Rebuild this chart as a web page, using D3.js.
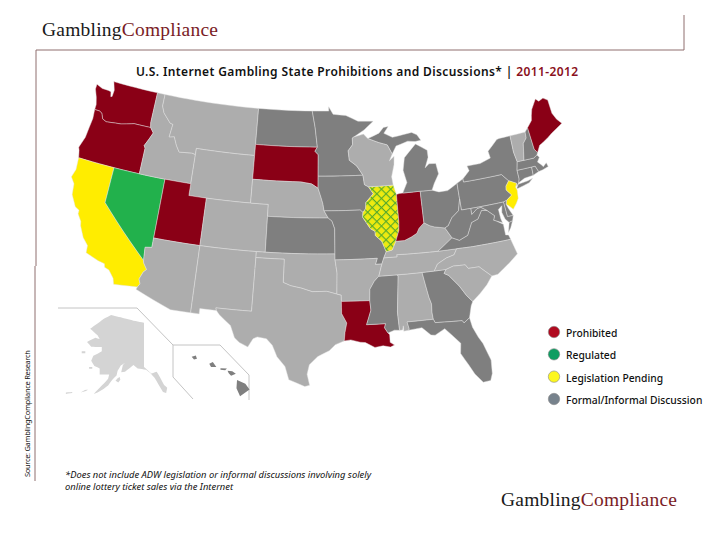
<!doctype html>
<html lang="en">
<head>
<meta charset="utf-8">
<title>U.S. Internet Gambling State Prohibitions and Discussions</title>
<script src="https://d3js.org/d3.v7.min.js"></script>
<style>
  html, body { margin: 0; padding: 0; background: #fff; }
  svg { display: block; }
  .state { stroke: #e4e4e4; stroke-width: 0.45; stroke-linejoin: round; }
  .frame { fill: none; stroke: #8f6f6f; stroke-width: 1; }
  .inset { fill: none; stroke: #c4c4c4; stroke-width: 1; }
  .logo { font-family: "Liberation Serif", serif; font-size: 19.5px; }
  .label { font-family: "Noto Sans", sans-serif; font-size: 10.3px; fill: #111; }
</style>
</head>
<body>
<div id="map"></div>
<script>
// state outlines, lon/lat
var WA = [[[-124.7,48.38],[-123.9,48.16],[-123.1,48.15],[-122.75,48.1],[-122.6,47.7],[-122.45,47.75],[-122.4,48.3],[-122.75,49],[-117.03,49],[-117.04,46.42],[-116.92,46],[-118.98,46],[-119.3,45.93],[-120.5,45.7],[-121.2,45.65],[-122.3,45.55],[-122.8,45.7],[-123.1,46.15],[-123.45,46.27],[-124.05,46.27],[-124.05,46.7],[-124.3,47.3],[-124.7,47.95]]];
var OR = [[[-124.05,46.27],[-123.45,46.27],[-123.1,46.15],[-122.8,45.7],[-122.3,45.55],[-121.2,45.65],[-120.5,45.7],[-119.3,45.93],[-118.98,46],[-116.92,46],[-116.47,45.6],[-116.85,44.95],[-117.2,44.4],[-117.03,44.2],[-117.03,42],[-120,42],[-124.2,42],[-124.4,42.6],[-124.55,42.85],[-124.15,43.8],[-124.05,44.7],[-123.95,45.5]]];
var CA = [[[-124.2,42],[-120,42],[-120,39],[-114.63,35],[-114.57,34.8],[-114.14,34.3],[-114.43,34.05],[-114.72,33.4],[-114.52,33.03],[-114.72,32.72],[-117.12,32.53],[-117.3,33],[-117.9,33.6],[-118.4,33.75],[-118.5,34.03],[-119.2,34.15],[-120.6,34.55],[-120.65,35.15],[-121.3,35.7],[-121.9,36.6],[-122,36.95],[-122.5,37.5],[-122.5,37.8],[-123,38],[-123.7,38.9],[-123.85,39.8],[-124.35,40.3],[-124.1,41]]];
var NV = [[[-120,42],[-117.03,42],[-114.04,42],[-114.04,37],[-114.04,36.2],[-114.74,36.1],[-114.63,35],[-120,39]]];
var ID = [[[-117.03,49],[-116.05,49],[-116.05,48],[-115.7,47.45],[-114.7,46.7],[-114.35,46.65],[-114.5,45.55],[-113.9,45.65],[-113.45,44.95],[-113,44.45],[-111.5,44.55],[-111.05,44.48],[-111.05,42],[-114.04,42],[-117.03,42],[-117.03,44.2],[-117.2,44.4],[-116.85,44.95],[-116.47,45.6],[-116.92,46],[-117.04,46.42]]];
var MT = [[[-116.05,49],[-104.05,49],[-104.05,45.94],[-104.05,45],[-111.05,45],[-111.05,44.48],[-111.5,44.55],[-113,44.45],[-113.45,44.95],[-113.9,45.65],[-114.5,45.55],[-114.35,46.65],[-114.7,46.7],[-115.7,47.45],[-116.05,48]]];
var WY = [[[-111.05,45],[-104.05,45],[-104.05,43],[-104.05,41],[-111.05,41],[-111.05,42]]];
var UT = [[[-114.04,42],[-111.05,42],[-111.05,41],[-109.05,41],[-109.05,37],[-114.04,37]]];
var CO = [[[-109.05,41],[-104.05,41],[-102.05,41],[-102.05,40],[-102.05,37],[-103,37],[-109.05,37]]];
var AZ = [[[-114.74,36.1],[-114.04,36.2],[-114.04,37],[-109.05,37],[-109.05,31.33],[-111.07,31.33],[-114.81,32.5],[-114.72,32.72],[-114.52,33.03],[-114.72,33.4],[-114.43,34.05],[-114.14,34.3],[-114.57,34.8],[-114.63,35]]];
var NM = [[[-109.05,37],[-103,37],[-103,36.5],[-103.04,32],[-106.62,32],[-106.53,31.78],[-108.2,31.78],[-108.2,31.33],[-109.05,31.33]]];
var ND = [[[-104.05,49],[-97.23,49],[-96.85,47.6],[-96.56,45.94],[-104.05,45.94]]];
var SD = [[[-104.05,45.94],[-96.56,45.94],[-96.85,45.6],[-96.45,45.3],[-96.45,43.5],[-96.45,42.49],[-97.2,42.85],[-98.5,43],[-104.05,43]]];
var NE = [[[-104.05,43],[-98.5,43],[-97.2,42.85],[-96.45,42.49],[-96.1,41.7],[-95.9,41.2],[-95.77,40.6],[-95.31,40],[-102.05,40],[-102.05,41],[-104.05,41]]];
var KS = [[[-102.05,40],[-95.31,40],[-94.9,39.75],[-94.61,39.11],[-94.62,37],[-102.05,37]]];
var OK = [[[-103,37],[-102.05,37],[-94.62,37],[-94.62,36.5],[-94.43,35.4],[-94.48,33.64],[-95.5,33.88],[-97,33.85],[-98.1,34.13],[-99.2,34.3],[-100,34.56],[-100,36.5],[-103,36.5]]];
var TX = [[[-103,36.5],[-100,36.5],[-100,34.56],[-99.2,34.3],[-98.1,34.13],[-97,33.85],[-95.5,33.88],[-94.48,33.64],[-94.04,33.55],[-94.04,33.02],[-94.04,32],[-93.55,31.2],[-93.75,30.4],[-93.84,29.7],[-94.7,29.4],[-95.3,28.9],[-96.4,28.4],[-97.2,27.7],[-97.4,26.9],[-97.15,25.96],[-97.6,25.85],[-99.1,26.4],[-99.5,27.5],[-100.3,28.3],[-100.8,29.25],[-101.4,29.77],[-102.3,29.88],[-102.7,29.7],[-103.15,28.98],[-104,29.3],[-104.5,29.65],[-105,30.65],[-106.2,31.45],[-106.53,31.78],[-106.62,32],[-103.04,32]]];
var MN = [[[-97.23,49],[-95.15,49],[-95.15,49.38],[-94.6,48.72],[-93,48.6],[-91.5,48.07],[-89.6,48],[-90.8,47.3],[-92.1,46.75],[-92.29,46.66],[-92.29,46.1],[-92.85,45.6],[-92.75,44.8],[-91.9,44.3],[-91.22,43.5],[-96.45,43.5],[-96.45,45.3],[-96.85,45.6],[-96.56,45.94],[-96.85,47.6]]];
var IA = [[[-96.45,43.5],[-91.22,43.5],[-91.1,42.7],[-90.65,42.5],[-90.15,41.9],[-91.05,41.2],[-91.1,40.7],[-91.42,40.38],[-91.72,40.6],[-95.77,40.6],[-95.9,41.2],[-96.1,41.7],[-96.45,42.49]]];
var MO = [[[-95.77,40.6],[-91.72,40.6],[-91.42,40.38],[-91.5,40],[-90.7,39],[-90.2,38.75],[-90.2,38.4],[-89.55,37.9],[-89.15,37],[-89.45,36.5],[-89.7,36],[-90.38,36],[-90.15,36.5],[-94.62,36.5],[-94.62,37],[-94.61,39.11],[-94.9,39.75],[-95.31,40]]];
var AR = [[[-94.62,36.5],[-90.15,36.5],[-90.38,36],[-89.7,36],[-90.1,35],[-90.6,34.6],[-91.1,33.95],[-91.17,33],[-94.04,33.02],[-94.04,33.55],[-94.48,33.64],[-94.43,35.4]]];
var LA = [[[-94.04,33.02],[-91.17,33],[-91.1,32.2],[-91.6,31],[-89.73,31],[-89.85,30.65],[-89.55,30.2],[-89.4,30.05],[-89.4,29.4],[-89,29.15],[-89.4,29],[-90.1,29.15],[-90.9,29.05],[-91.8,29.5],[-92.3,29.55],[-93.2,29.77],[-93.84,29.7],[-93.75,30.4],[-93.55,31.2],[-94.04,32]]];
var MS = [[[-90.1,35],[-88.2,35],[-88.1,34.9],[-88.47,31.9],[-88.4,30.35],[-88.9,30.4],[-89.55,30.2],[-89.85,30.65],[-89.73,31],[-91.6,31],[-91.1,32.2],[-91.17,33],[-91.1,33.95],[-90.6,34.6]]];
var AL = [[[-88.2,35],[-85.6,35],[-85.18,32.87],[-85,32.3],[-85.05,31.55],[-85,31],[-87.6,31],[-87.45,30.4],[-87.5,30.3],[-88,30.25],[-88,30.7],[-88.1,30.35],[-88.4,30.35],[-88.47,31.9],[-88.1,34.9]]];
var GA = [[[-85.6,35],[-84.32,35],[-83.1,35],[-83.35,34.7],[-82.9,34.48],[-82,33.5],[-81.4,32.6],[-80.88,32.03],[-81.1,31.7],[-81.45,30.72],[-82.05,30.36],[-82.2,30.57],[-84.86,30.7],[-85,31],[-85.05,31.55],[-85,32.3],[-85.18,32.87]]];
var FL = [[[-87.6,31],[-85,31],[-84.86,30.7],[-82.2,30.57],[-82.05,30.36],[-81.45,30.72],[-81.3,29.9],[-80.9,29],[-80.55,28.4],[-80.05,26.9],[-80.15,25.75],[-80.4,25.2],[-81.1,25.15],[-81.75,25.95],[-82.2,26.8],[-82.8,27.85],[-82.65,28.7],[-83.4,29.5],[-84,30.1],[-85,29.65],[-85.4,29.7],[-86.2,30.4],[-87.5,30.3],[-87.45,30.4]]];
var TN = [[[-89.45,36.5],[-88.05,36.5],[-88.07,36.68],[-83.68,36.6],[-81.68,36.59],[-82.05,36.12],[-82.9,35.95],[-83.9,35.55],[-84.32,35],[-85.6,35],[-88.2,35],[-90.1,35],[-89.7,36]]];
var KY = [[[-89.15,37],[-88.5,37.1],[-88.05,37.8],[-87.1,37.8],[-86.3,38.05],[-85.7,38.3],[-85.4,38.7],[-84.8,39.1],[-84.2,38.8],[-83.7,38.65],[-82.6,38.45],[-82,37.55],[-83.68,36.6],[-88.07,36.68],[-88.05,36.5],[-89.45,36.5]]];
var IL = [[[-90.65,42.5],[-87.8,42.5],[-87.53,41.7],[-87.53,39.35],[-87.6,38.7],[-88.05,37.8],[-88.5,37.1],[-89.15,37],[-89.55,37.9],[-90.2,38.4],[-90.2,38.75],[-90.7,39],[-91.5,40],[-91.42,40.38],[-91.1,40.7],[-91.05,41.2],[-90.15,41.9]]];
var IN = [[[-87.53,41.7],[-87.2,41.75],[-86.8,41.76],[-84.8,41.76],[-84.8,39.1],[-85.4,38.7],[-85.7,38.3],[-86.3,38.05],[-87.1,37.8],[-88.05,37.8],[-87.6,38.7],[-87.53,39.35]]];
var OH = [[[-84.8,41.76],[-83.45,41.72],[-82.7,41.5],[-81.7,41.5],[-80.52,41.98],[-80.52,40.64],[-80.85,39.7],[-81.7,39.2],[-82.2,38.6],[-82.6,38.45],[-83.7,38.65],[-84.2,38.8],[-84.8,39.1]]];
var MI = [[[-86.8,41.76],[-84.8,41.76],[-83.45,41.72],[-83.1,42.25],[-82.45,43],[-82.6,43.9],[-83.4,43.95],[-83.9,43.65],[-83.4,44.5],[-83.4,45.1],[-84.7,45.75],[-85.5,45.2],[-86.2,44.7],[-86.5,43.65],[-86.2,42.6]],
          [[-90.4,46.55],[-89,46.95],[-88.4,47.4],[-87.8,47.45],[-88.4,46.9],[-87.4,46.5],[-86,46.65],[-85,46.75],[-84.4,46.5],[-84,46],[-84.7,45.95],[-85.6,46.05],[-86.5,45.85],[-87.05,45.75],[-87.6,45.1],[-88.1,45.9],[-89.1,46.15]]];
var WI = [[[-92.29,46.66],[-92.1,46.75],[-90.9,46.95],[-90.4,46.55],[-89.1,46.15],[-88.1,45.9],[-87.6,45.1],[-88,44.55],[-87.4,44.9],[-87.5,44.2],[-87.9,43.2],[-87.8,42.5],[-90.65,42.5],[-91.1,42.7],[-91.22,43.5],[-91.9,44.3],[-92.75,44.8],[-92.85,45.6],[-92.29,46.1]]];
var PA = [[[-80.52,41.98],[-79.76,42.27],[-79.76,42],[-75.35,42],[-74.7,41.36],[-75.13,40.97],[-75.2,40.65],[-74.72,40.15],[-75.4,39.8],[-75.79,39.72],[-79.48,39.72],[-80.52,39.72],[-80.52,40.64]]];
var NY = [[[-79.76,42.27],[-78.9,42.85],[-79.05,43.27],[-77.5,43.27],[-76.2,43.55],[-76.3,44.15],[-75,44.95],[-74.7,45],[-73.35,45],[-73.4,43.6],[-73.25,42.75],[-73.5,42.05],[-73.5,41.3],[-73.65,41],[-73.95,40.75],[-73.9,41],[-74.7,41.36],[-75.35,42],[-79.76,42]],
          [[-74,40.6],[-73.75,40.9],[-72.6,40.98],[-72,41.1],[-72.5,40.8],[-73.9,40.55]]];
var NJ = [[[-74.7,41.36],[-73.9,41],[-74.1,40.7],[-74,40.45],[-74.1,39.75],[-74.4,39.4],[-74.9,38.95],[-75.15,39.2],[-75.55,39.5],[-75.4,39.8],[-74.72,40.15],[-75.2,40.65],[-75.13,40.97]]];
var DE = [[[-75.79,39.72],[-75.4,39.8],[-75.55,39.5],[-75.4,39.1],[-75.05,38.45],[-75.7,38.46]]];
var MD = [[[-79.48,39.72],[-75.79,39.72],[-75.7,38.46],[-75.05,38.45],[-75.25,38.03],[-75.65,37.95],[-76,38.3],[-76.2,38.9],[-76.05,39.45],[-76.5,39.2],[-76.45,38.4],[-76.35,38.05],[-77,38.3],[-77.25,38.4],[-77.05,38.75],[-77.5,39.1],[-77.75,39.3],[-78.35,39.65],[-78.8,39.6],[-79.48,39.2]]];
var VA = [[[-83.68,36.6],[-81.68,36.59],[-80,36.55],[-75.87,36.55],[-76,36.95],[-76.3,37],[-76.3,37.9],[-77,38.3],[-77.25,38.4],[-77.05,38.75],[-77.5,39.1],[-77.75,39.3],[-78.35,39.4],[-78.9,38.75],[-79.65,38.55],[-80.3,37.55],[-81.25,37.25],[-82,37.55]],
          [[-75.25,38.03],[-75.65,37.95],[-75.95,37.15],[-75.6,37.5]]];
var WV = [[[-80.52,40.64],[-80.52,39.72],[-79.48,39.72],[-79.48,39.2],[-78.8,39.6],[-78.35,39.65],[-77.75,39.3],[-78.35,39.4],[-78.9,38.75],[-79.65,38.55],[-80.3,37.55],[-81.25,37.25],[-82,37.55],[-82.6,38.45],[-82.2,38.6],[-81.7,39.2],[-80.85,39.7]]];
var NC = [[[-81.68,36.59],[-80,36.55],[-75.87,36.55],[-75.5,35.25],[-76.5,34.65],[-77.9,33.9],[-78.55,33.86],[-79.67,34.8],[-80.8,34.82],[-81.05,35.15],[-82.3,35.2],[-83.1,35],[-84.32,35],[-83.9,35.55],[-82.9,35.95],[-82.05,36.12]]];
var SC = [[[-83.1,35],[-82.3,35.2],[-81.05,35.15],[-80.8,34.82],[-79.67,34.8],[-78.55,33.86],[-79.2,33.2],[-80,32.6],[-80.88,32.03],[-81.4,32.6],[-82,33.5],[-82.9,34.48],[-83.35,34.7]]];
var CT = [[[-73.5,42.05],[-71.8,42.02],[-71.85,41.32],[-72.9,41.25],[-73.65,41],[-73.5,41.3]]];
var RI = [[[-71.8,42.02],[-71.38,42.02],[-71.15,41.5],[-71.85,41.32]]];
var MA = [[[-73.5,42.05],[-73.25,42.75],[-72.45,42.73],[-71.3,42.7],[-70.85,42.88],[-70.65,42.65],[-71,42.3],[-70.6,41.95],[-70.5,41.8],[-70.05,42.05],[-69.95,41.7],[-70.65,41.55],[-71.15,41.5],[-71.38,42.02],[-71.8,42.02]]];
var VT = [[[-73.35,45],[-71.5,45],[-71.55,44.5],[-72.05,44.1],[-72.45,42.73],[-73.25,42.75],[-73.4,43.6]]];
var NH = [[[-71.5,45],[-71.08,45.3],[-70.98,43.4],[-70.7,43.07],[-70.85,42.88],[-71.3,42.7],[-72.45,42.73],[-72.05,44.1],[-71.55,44.5]]];
var ME = [[[-71.08,45.3],[-70.4,45.8],[-70.25,46.2],[-70,46.7],[-69.23,47.46],[-68.9,47.2],[-68.3,47.35],[-67.8,47.07],[-67.78,45.9],[-67.45,45.3],[-67,44.85],[-68.5,44.3],[-69.05,44.05],[-69.8,43.75],[-70.25,43.6],[-70.7,43.07],[-70.98,43.4]]];
var AK = [[[-141,69.65],[-141,60.3],[-137.5,58.9],[-135,59.3],[-133.5,58.2],[-131.5,56.5],[-130,55.9],[-130.5,54.8],[-132,55],[-134,56.5],[-136,58],[-138,59],[-140,59.7],[-144,60],[-146,60.7],[-148,60],[-150,59.3],[-151.8,59.2],[-151,60.7],[-150,61.2],[-152,60.6],[-153.5,59.5],[-154,58.5],[-156,57.6],[-158,56.4],[-160,55.7],[-163,54.9],[-164.8,54.6],[-162,55.9],[-160,56.8],[-158,57.8],[-157.5,58.7],[-160,58.7],[-162,58.7],[-162,60],[-164.5,60.5],[-166,61.6],[-165,62.7],[-163,63.1],[-161,63.6],[-161,64.5],[-163,64.5],[-166,64.6],[-168,65.6],[-164,66.5],[-162,66.2],[-163,67],[-166.5,68.4],[-163,69.5],[-160,70.5],[-156.6,71.3],[-152,70.8],[-146,70.1]],
          [[-154.5,57.4],[-153.2,57],[-152.2,57.6],[-152.5,58.2],[-153.5,57.9]],
          [[-171,54.9],[-168.5,55.2],[-167.5,55.5],[-169,55.4]],
          [[-178,54.6],[-175,54.8],[-175,55],[-178,54.9]],
          [[-170.5,63.6],[-168.8,63.6],[-168.8,63.2],[-170.5,63.2]],
          [[-167,60.3],[-165.5,60.3],[-165.5,59.9],[-167,59.9]]];
var HI = [[[-155.9,20.25],[-155.2,19.95],[-154.85,19.5],[-155.65,18.95],[-155.95,19.6]],
          [[-156.7,21],[-156.3,20.95],[-156,20.75],[-156.4,20.6],[-156.6,20.8]],
          [[-157.3,21.2],[-156.75,21.18],[-156.9,21.05],[-157.3,21.08]],
          [[-158.25,21.55],[-157.95,21.7],[-157.65,21.3],[-158.1,21.3]],
          [[-159.75,22.1],[-159.4,22.22],[-159.3,21.95],[-159.55,21.88]]];

var stateCodes = ["WA","OR","CA","NV","ID","MT","WY","UT","CO","AZ","NM","ND","SD","NE","KS","OK","TX","MN","IA","MO","AR","LA","MS","AL","GA","FL","TN","KY","IL","IN","OH","MI","WI","PA","NY","NJ","DE","MD","VA","WV","NC","SC","CT","RI","MA","VT","NH","ME","AK","HI"];
var stateOutlines = [WA,OR,CA,NV,ID,MT,WY,UT,CO,AZ,NM,ND,SD,NE,KS,OK,TX,MN,IA,MO,AR,LA,MS,AL,GA,FL,TN,KY,IL,IN,OH,MI,WI,PA,NY,NJ,DE,MD,VA,WV,NC,SC,CT,RI,MA,VT,NH,ME,AK,HI];

var prohibited = ["WA","OR","UT","SD","LA","IN","ME"];
var regulated = ["NV"];
var pending = ["CA","NJ"];
var pendingRegulated = ["IL"];
var discussion = ["ND","MN","IA","MO","KS","MI","OH","PA","NY","NH","MA","CT","RI","WV","VA","MD","DE","GA","MS","FL","HI"];

var legendLabels = ["Prohibited","Regulated","Legislation Pending","Formal/Informal Discussion"];
var legendColors = ["#b00a20","#0f9d62","#fdf71f","#77828c"];
var footnotes = ["*Does not include ADW legislation or informal discussions involving solely","online lottery ticket sales via the Internet"];

var width = 720, height = 540;

var svg = d3.select("#map").append("svg")
    .attr("width", width)
    .attr("height", height);

var pattern = svg.append("defs").append("pattern")
    .attr("id", "hatch")
    .attr("width", 6.5).attr("height", 6.5)
    .attr("patternUnits", "userSpaceOnUse")
    .attr("patternTransform", "rotate(45)");
pattern.append("rect").attr("width", 6.5).attr("height", 6.5).attr("fill", "#eeea10");
pattern.append("path").attr("d", "M0 0H6.5M0 0V6.5").attr("stroke", "#55aa2c").attr("stroke-width", 2.2);

function stateFill(code) {
  if (prohibited.indexOf(code) >= 0) return "#8a0016";
  if (regulated.indexOf(code) >= 0) return "#22b14c";
  if (pending.indexOf(code) >= 0) return "#ffed00";
  if (pendingRegulated.indexOf(code) >= 0) return "url(#hatch)";
  if (discussion.indexOf(code) >= 0) return "#7f7f7f";
  if (code === "AK") return "#d4d4d4";
  return "#adadad";
}

// long borders follow the parallels, so add points along them before projecting
function densify(ring) {
  var out = [];
  ring.forEach(function(p, i) {
    var q = ring[(i + 1) % ring.length];
    var n = Math.ceil(Math.max(Math.abs(q[0] - p[0]), Math.abs(q[1] - p[1])));
    for (var k = 0; k < n; k++) out.push([p[0] + (q[0] - p[0]) * k / n, p[1] + (q[1] - p[1]) * k / n]);
  });
  out.push(out[0].slice());
  return out;
}

function toFeature(rings) {
  var polys = rings.map(function(ring) {
    var r = densify(ring);
    if (d3.geoArea({type: "Polygon", coordinates: [r]}) > 2 * Math.PI) r.reverse();
    return [r];
  });
  return {type: "MultiPolygon", coordinates: polys};
}

var lower48 = d3.geoConicEqualArea().parallels([29.5, 45.5]).rotate([96, 0]).center([0, 37.5])
    .scale(680).translate([322, 248]);
var hawaii = d3.geoConicEqualArea().parallels([8, 18]).rotate([157, 0]).center([0, 20.5])
    .scale(720).translate([224, 377]);

// the Alaska inset is squashed, its east border stands upright
var akX = d3.scaleLinear().domain([-168, -141]).range([87, 144]);
var akY = d3.scaleLinear().domain([71.3, 55]).range([315, 392]);
var alaska = d3.geoTransform({
  point: function(lon, lat) { this.stream.point(akX(lon), akY(lat)); }
});

var insetLines = [
  [[58,308],[137,308],[173,345],[220,345],[249,375],[249,400]],
  [[173,345],[173,377],[193,399]]
];
svg.selectAll(".inset").data(insetLines).enter().append("path")
    .attr("class", "inset")
    .attr("d", d3.line());

svg.selectAll(".state")
    .data(stateCodes).enter().append("path")
    .attr("class", "state")
    .attr("fill", stateFill)
    .attr("d", function(code, i) {
      var proj = code === "AK" ? alaska : code === "HI" ? hawaii : lower48;
      return d3.geoPath(proj)(toFeature(stateOutlines[i]));
    })
    .style("stroke-width", function(code) { return code === "AK" || code === "HI" ? 0 : null; });

// frame
var frame = [[[684,15],[684,50],[36,50],[36,266]],[[35,266],[35,481]]];
svg.selectAll(".frame").data(frame).enter().append("path")
    .attr("class", "frame")
    .attr("d", d3.line());

function logo(x, y) {
  var t = svg.append("text").attr("class", "logo").attr("x", x).attr("y", y).attr("textLength", 176);
  t.append("tspan").attr("fill", "#1a1a1a").text("Gambling");
  t.append("tspan").attr("fill", "#7a1c26").text("Compliance");
}
logo(42, 36);
logo(501, 506);

var title = svg.append("text")
    .attr("x", 136).attr("y", 76)
    .attr("font-family", "Noto Sans, sans-serif")
    .attr("font-size", 12)
    .attr("font-weight", 600)
    .attr("textLength", 442);
title.append("tspan").attr("fill", "#111").text("U.S. Internet Gambling State Prohibitions and Discussions* | ");
title.append("tspan").attr("fill", "#8a1020").text("2011-2012");

svg.append("text")
    .attr("transform", "translate(30,477) rotate(-90)")
    .attr("font-family", "Noto Sans, sans-serif")
    .attr("font-size", 7.5)
    .attr("fill", "#111")
    .attr("textLength", 127)
    .text("Source: GamblingCompliance Research");

svg.selectAll(".note").data(footnotes).enter().append("text")
    .attr("class", "note")
    .attr("x", 65)
    .attr("y", function(d, i) { return 478 + i * 12; })
    .attr("font-family", "Noto Sans, sans-serif")
    .attr("font-style", "italic")
    .attr("font-size", 9.4)
    .attr("fill", "#111")
    .text(function(d) { return d; });

var legendY = d3.scalePoint().domain(legendLabels).range([332, 399]);
var legend = svg.selectAll(".legend").data(legendLabels).enter().append("g")
    .attr("class", "legend")
    .attr("transform", function(d) { return "translate(554," + legendY(d) + ")"; });
legend.append("circle")
    .attr("r", 5.7)
    .attr("fill", function(d, i) { return legendColors[i]; })
    .attr("stroke", "#888")
    .attr("stroke-width", 0.6);
legend.append("text")
    .attr("class", "label")
    .attr("x", 12).attr("y", 5)
    .attr("font-weight", 500)
    .text(function(d) { return d; });
</script>
</body>
</html>
